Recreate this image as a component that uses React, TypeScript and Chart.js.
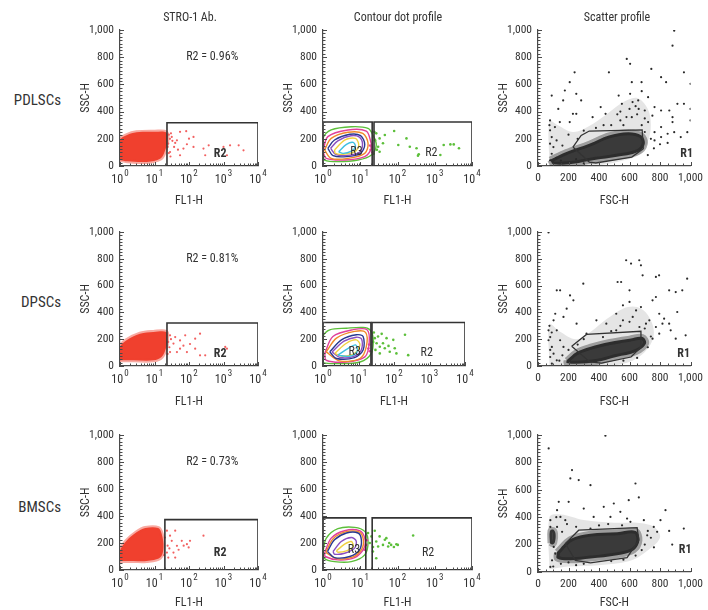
import { useEffect, useRef } from 'react';
import { Chart, registerables } from 'chart.js';

Chart.register(...registerables);

const FONT = '"Liberation Sans Narrow", "Roboto Condensed", "DejaVu Sans Condensed", Roboto, "Liberation Sans", sans-serif';
const INK = '#333333';
const AXIS = '#4a4a4a';

type Pt = [number, number];

// ---------- STRO-1 Ab. : FL1-H (log) vs SSC-H ----------
const pdlRedCloud: Pt[] = [[1, 45], [1, 190], [1.6, 228], [3, 248], [10, 252], [22, 246], [23.5, 180], [20, 110], [15, 55], [6, 30], [1.6, 35]];
const pdlRedDots: Pt[] = [
  [44.7, 189], [55, 251], [83, 256], [37, 140], [31.6, 214], [47.9, 120], [87, 160], [135, 214], [135, 140],
  [263, 128], [295, 79], [372, 152], [1000, 140], [1549, 152], [2754, 152], [3802, 115], [1259, 79], [25.1, 165],
  [39.8, 170], [69, 128], [28.2, 103], [100, 201], [55, 79], [26, 230], [28, 200], [30, 240], [33, 185], [24, 140],
  [26, 95], [29, 70],
];
const pdlR2Gate: number[] = [23, 10000, 318];

const dpRedCloud: Pt[] = [[1, 42], [1, 142], [1.55, 192], [3.8, 241], [9.3, 254], [22, 254], [23, 200], [22, 142], [16, 67], [9.3, 42], [2.5, 42]];
const dpRedDots: Pt[] = [
  [28.2, 229], [39.8, 216], [55, 191], [77.6, 229], [151, 204], [209, 241], [35.5, 167], [55, 129], [87, 104],
  [151, 129], [209, 80], [295, 80], [1122, 142], [1259, 129], [28.2, 104], [44.7, 104], [69, 152], [107, 164],
  [25, 180], [27, 140], [30, 200], [24, 90],
];
const dpR2Gate: number[] = [23, 10000, 321];

const bmRedCloud: Pt[] = [[1, 67], [1, 142], [1.55, 216], [3, 279], [5.4, 311], [12.9, 311], [16.2, 266], [18.2, 167], [14.5, 92], [5.9, 67], [2.45, 67]];
const bmRedDots: Pt[] = [
  [22.9, 291], [28.2, 254], [39.8, 291], [31.6, 216], [44.7, 179], [61.7, 216], [87, 191], [107, 216], [97.7, 167],
  [22.9, 129], [35.5, 129], [263, 254], [25.1, 92], [39.8, 92], [20, 240], [24, 180], [19, 110], [27, 160],
  [50, 150], [70, 180],
];
const bmR2Gate: number[] = [20, 10000, 373];

const stroPercent: string[] = ['R2 = 0.96%', 'R2 = 0.81%', 'R2 = 0.73%'];

// ---------- Contour dot profile : density contours ----------
const pdlContours: Pt[][] = [
  [[1, 81], [1, 203], [1.66, 265], [5.75, 289], [16.2, 277], [21.9, 228], [26.9, 154], [20, 81], [8.71, 44], [2.51, 32], [1.1, 44]],
  [[1, 105], [1.35, 216], [4.68, 265], [14.5, 257], [19.1, 179], [20, 130], [13.2, 69], [3.8, 44], [1.23, 56]],
  [[1.1, 118], [1.66, 203], [4.68, 248], [11.7, 240], [16.2, 167], [13.2, 93], [4.68, 56], [1.66, 56]],
  [[1.35, 130], [2.04, 191], [5.25, 233], [10.2, 223], [13.2, 159], [10.2, 93], [4.27, 69], [1.86, 76]],
  [[1.6, 130], [2.5, 185], [5.6, 222], [9.5, 212], [11.5, 160], [9.5, 100], [4.5, 78], [2.2, 85]],
  [[2.04, 118], [3.8, 191], [7.41, 203], [9.12, 154], [7.08, 105], [3.47, 86], [2.14, 93]],
  [[2.63, 105], [4.27, 159], [6.46, 174], [7.41, 142], [5.75, 110], [3.47, 93]],
];
const pdlGreenDots: Pt[] = [
  [26.9, 240], [33.1, 203], [30.2, 142], [45.7, 228], [81.3, 257], [105, 154], [174, 203], [214, 142], [324, 130],
  [372, 86], [355, 76], [1738, 154], [2630, 159], [3236, 159], [4467, 130], [1413, 81], [33.1, 105], [40.7, 167],
  [24, 250], [25, 190], [28, 120], [23, 90],
];
const pdlPinkDots: Pt[] = [[20, 140], [19, 120], [21, 100], [18.5, 150]];
const pdlR3Gate: number[] = [1, 20.9, 323];
const pdlR2cGate: number[] = [23.4, 10000, 323];

const dpContours: Pt[][] = [
  [[1, 43], [1, 220], [1.55, 270], [4.57, 282], [13.5, 288], [20.9, 270], [25.7, 210], [22.9, 94], [11, 30], [2.4, 18], [1, 25]],
  [[1.12, 94], [1.9, 220], [7.08, 271], [17.4, 271], [20, 170], [15.1, 68], [4.57, 30], [1.23, 43]],
  [[1.23, 106], [2.4, 208], [7.76, 258], [15.8, 251], [16.6, 144], [11, 56], [2.95, 38]],
  [[1.55, 106], [3.31, 195], [8.71, 233], [13.5, 220], [13.5, 119], [7.76, 63], [2.4, 56]],
  [[1.8, 104], [3.9, 185], [8.7, 215], [12.3, 200], [12, 120], [7.4, 72], [3, 64]],
  [[2.14, 94], [4.57, 170], [8.71, 195], [11, 157], [7.76, 94], [3.63, 73]],
  [[2.63, 81], [5.13, 132], [8.32, 157], [9.12, 106], [5.62, 73]],
];
const dpGreenDots: Pt[] = [
  [28.8, 208], [35.5, 220], [32.4, 170], [39.8, 144], [49, 170], [61.7, 208], [55, 132], [95.5, 195], [105, 132],
  [117, 94], [204, 233], [251, 81], [75.9, 106], [39.8, 94], [27, 250], [30, 120], [45, 240], [70, 150], [26, 180],
];
const dpPinkDots: Pt[] = [[20, 160], [19, 130], [21, 110]];
const dpR3Gate: number[] = [1, 22.4, 325];
const dpR2cGate: number[] = [24, 10000, 325];

const bmContours: Pt[][] = [
  [[1, 137], [1.23, 236], [2.51, 306], [7.08, 316], [13.2, 286], [16.2, 211], [13.2, 112], [5.75, 62], [2.04, 62], [1.07, 87]],
  [[1.1, 124], [1.66, 236], [3.8, 291], [9.55, 291], [13.2, 236], [12.6, 162], [7.08, 92], [2.51, 75], [1.15, 100]],
  [[1.2, 130], [1.85, 230], [4, 282], [9.2, 282], [12, 230], [11, 155], [6.2, 96], [2.3, 84]],
  [[1.32, 137], [2.04, 224], [4.27, 274], [8.71, 274], [10.7, 224], [9.55, 149], [5.25, 100], [2.04, 92]],
  [[1.86, 137], [3.09, 211], [5.75, 241], [7.76, 216], [7.08, 162], [3.8, 124], [2.04, 117]],
  [[2.29, 142], [3.8, 191], [5.75, 211], [6.46, 174], [4.27, 142], [2.51, 132]],
];
const bmGreenDots: Pt[] = [
  [16.2, 274], [20, 249], [24.5, 291], [26.9, 211], [33.1, 249], [30.2, 174], [40.7, 186], [50.1, 236], [56.2, 174],
  [67.6, 186], [93.3, 191], [102, 186], [21.9, 137], [26.9, 87], [263, 256], [45.7, 224], [18, 200], [22, 170],
  [60, 200], [80, 170],
];
const bmPinkDots: Pt[] = [[14.5, 186], [13, 150], [15, 220]];
const bmR3Gate: number[] = [1, 14.1, 386];
const bmR2cGate: number[] = [20.9, 10000, 386];

const contourColors: string[] = ['#5cbf3a', '#e0409a', '#f08a2a', '#283890', '#8a4fc0', '#f0d040', '#40c0e0'];

// ---------- Scatter profile : FSC-H vs SSC-H ----------
const pdlHalo: Pt[] = [[75, 0], [75, 330], [130, 300], [230, 250], [330, 290], [450, 380], [560, 470], [650, 500], [720, 420], [740, 300], [720, 180], [660, 80], [520, 30], [350, 0]];
const pdlCore: Pt[] = [[79, 46], [186, 103], [336, 164], [465, 225], [593, 249], [679, 225], [700, 164], [657, 103], [507, 66], [379, 46], [229, 17], [101, 12]];
const pdlEvents: Pt[] = [
  [90, 518], [240, 689], [208, 616], [176, 555], [165, 482], [251, 531], [283, 482], [411, 433], [465, 689], [529, 518],
  [582, 787], [604, 751], [615, 616], [679, 616], [743, 714], [807, 653], [840, 616], [882, 885], [893, 995], [957, 689],
  [914, 457], [957, 457], [882, 359], [882, 323], [1000, 604], [1000, 420], [1000, 335], [764, 433], [722, 506], [657, 482],
  [700, 408], [807, 408], [861, 408], [604, 531], [550, 457], [443, 384], [358, 359], [251, 384], [133, 420], [75, 300],
  [79, 335], [79, 262], [90, 213], [79, 164], [101, 139], [90, 90], [79, 42], [111, 286], [122, 188], [143, 323],
  [208, 323], [229, 384], [807, 286], [850, 237], [893, 249], [936, 213], [764, 188], [722, 323], [615, 359], [540, 335],
  [764, 249], [807, 213], [979, 249], [480, 300], [520, 380], [600, 420], [650, 380], [560, 300], [700, 350], [750, 370],
  [640, 440], [580, 360], [680, 300], [430, 300], [380, 280], [300, 260], [260, 200], [200, 230], [160, 150], [120, 60],
  [150, 40], [250, 50], [300, 20], [700, 250], [740, 200], [760, 130], [720, 80], [800, 160], [850, 170], [680, 550],
  [620, 470], [660, 420], [540, 400],
];
const pdlR1Gate: Pt[] = [[229, 139], [283, 225], [336, 257], [683, 266], [690, 127], [615, 66], [379, 22], [336, 29]];

const dpHalo: Pt[] = [[75, 0], [75, 310], [140, 260], [250, 200], [350, 260], [450, 350], [560, 430], [650, 440], [720, 380], [760, 250], [720, 130], [620, 40], [450, 0]];
const dpCore: Pt[] = [[188, 42], [253, 104], [340, 142], [470, 179], [600, 204], [686, 216], [708, 167], [643, 104], [513, 67], [383, 30], [253, 17], [188, 22]];
const dpEvents: Pt[] = [
  [69, 997], [123, 565], [145, 565], [210, 527], [232, 490], [297, 614], [188, 428], [167, 366], [253, 316], [318, 241],
  [383, 341], [448, 316], [513, 390], [522, 627], [545, 627], [578, 789], [600, 565], [610, 764], [664, 789], [675, 751],
  [686, 677], [773, 665], [794, 677], [751, 490], [773, 515], [860, 565], [903, 552], [913, 403], [946, 565], [978, 652],
  [968, 229], [903, 204], [870, 266], [827, 353], [795, 390], [730, 341], [675, 440], [600, 478], [557, 453], [621, 366],
  [708, 316], [773, 291], [795, 241], [751, 204], [665, 291], [816, 316], [860, 316], [643, 415], [513, 266], [557, 341],
  [426, 216], [69, 266], [80, 216], [91, 142], [80, 67], [91, 17], [69, 192], [102, 341], [113, 390], [123, 266],
  [145, 192], [167, 142], [102, 92], [123, 42], [80, 120], [90, 250], [75, 300], [480, 260], [540, 300], [600, 330],
  [700, 280], [740, 220], [720, 140], [650, 60], [560, 40], [300, 200], [260, 160], [200, 120], [160, 80], [140, 40],
];
const dpR1Gate: Pt[] = [[221, 147], [318, 236], [675, 259], [675, 142], [610, 67], [416, 22], [340, 30]];

const bmHalo: Pt[] = [[75, 20], [75, 400], [150, 420], [300, 380], [500, 360], [650, 360], [760, 330], [800, 250], [700, 140], [600, 80], [400, 50], [200, 40]];
const bmCore: Pt[] = [[125, 146], [212, 240], [344, 280], [519, 290], [640, 300], [665, 232], [628, 159], [519, 122], [344, 98], [212, 85], [125, 98]];
const bmLeftCluster: Pt[] = [[78, 210], [78, 300], [100, 310], [115, 280], [110, 215], [95, 200]];
const bmEvents: Pt[] = [
  [70, 902], [442, 995], [223, 744], [212, 683], [267, 671], [344, 634], [639, 646], [661, 544], [595, 524], [836, 451],
  [956, 317], [803, 378], [759, 329], [716, 268], [781, 293], [136, 512], [201, 512], [300, 463], [365, 402], [431, 476],
  [475, 402], [497, 500], [540, 439], [584, 390], [125, 451], [147, 402], [179, 378], [81, 37], [92, 85], [114, 134],
  [103, 183], [81, 329], [125, 329], [158, 293], [81, 378], [694, 378], [606, 366], [551, 341], [344, 317], [700, 200],
  [740, 250], [720, 300], [680, 160], [640, 120], [560, 90], [480, 80], [300, 60], [250, 50], [200, 70], [150, 60],
  [100, 40], [460, 350], [400, 340], [250, 330], [190, 350], [120, 400], [860, 300], [880, 200], [760, 180],
];
const bmR1Gate: Pt[] = [[179, 207], [267, 305], [650, 324], [661, 232], [584, 105], [344, 66], [245, 85]];

const rowNames: string[] = ['PDLSCs', 'DPSCs', 'BMSCs'];
const columnTitles: string[] = ['STRO-1 Ab.', 'Contour dot profile', 'Scatter profile'];

// ---------- layout ----------
const COLS = [
  { left: 64, right: 276, plotLeft: 120, plotRight: 258, yTitleX: 86 },
  { left: 276, right: 490, plotLeft: 323, plotRight: 472, yTitleX: 289 },
  { left: 490, right: 708, plotLeft: 538, plotRight: 693, yTitleX: 504 },
];
const ROWS = [
  { top: 0, bottom: 212, plotTop: 30, plotBottom: 166, xTitleY: 201, label: 100 },
  { top: 212, bottom: 412, plotTop: 232, plotBottom: 366, xTitleY: 402, label: 302 },
  { top: 412, bottom: 610, plotTop: 435, plotBottom: 570, xTitleY: 603, label: 507 },
];
const TITLE_SIZE = 12;
const TICK_SIZE = 11.5;

interface Layer { pts: Pt[]; mode: 'area' | 'line' | 'dots'; color: string; edge?: string; edgeWidth?: number; width?: number; radius?: number; tension?: number; }
interface Note { at: Pt; text: string; size: number; weight?: string; align?: CanvasTextAlign; }
interface Panel { row: number; col: number; log: boolean; xTitle: string; layers: Layer[]; notes: Note[]; plotRight?: number; plotTop?: number; plotBottom?: number; }

const box = (g: number[]): Pt[] => [[g[0], 0], [g[0], g[2]], [g[1], g[2]], [g[1], 0]];
const gateLayer = (pts: Pt[], width = 1.6): Layer => ({ pts, mode: 'line', color: '#333333', width, tension: 0 });

function stroPanel(row: number, cloud: Pt[], dots: Pt[], gate: number[], r2Y: number): Panel {
  return {
    row, col: 0, log: true, xTitle: 'FL1-H',
    layers: [
      { pts: cloud, mode: 'area', color: '#f0402e', edge: 'rgba(240,64,46,0.45)', edgeWidth: 4, tension: 0.35 },
      { pts: dots, mode: 'dots', color: '#f26060', radius: 1.1 },
      gateLayer(box(gate)),
    ],
    notes: [
      { at: [470, 800], text: stroPercent[row], size: 12 },
      { at: [800, r2Y], text: 'R2', size: 12, weight: 'bold' },
    ],
  };
}

function contourPanel(row: number, rings: Pt[][], green: Pt[], pink: Pt[], r3: number[], r2: number[], r3At: Pt, r2At: Pt, plotRight?: number): Panel {
  const layers: Layer[] = [{ pts: green, mode: 'dots', color: '#5cbf3a', radius: 1.3 }];
  rings.forEach((ring, i) => layers.push({ pts: ring, mode: 'line', color: contourColors[i % contourColors.length], width: 1.4, tension: 0.32 }));
  layers.push({ pts: pink, mode: 'dots', color: '#e0409a', radius: 1.3 });
  layers.push(gateLayer(box(r3)));
  layers.push(gateLayer(box(r2)));
  return {
    row, col: 1, log: true, xTitle: 'FL1-H', layers, plotRight,
    notes: [
      { at: r3At, text: 'R3', size: 12 },
      { at: r2At, text: 'R2', size: 12 },
    ],
  };
}

function scatterPanel(row: number, halo: Pt[], core: Pt[], events: Pt[], gate: Pt[], r1At: Pt, extra: Pt[] | null): Panel {
  const layers: Layer[] = [
    { pts: halo, mode: 'area', color: 'rgba(0,0,0,0.10)', edge: 'rgba(0,0,0,0)', edgeWidth: 0, tension: 0.35 },
    { pts: core, mode: 'area', color: 'rgba(20,20,20,0.82)', edge: 'rgba(20,20,20,0.35)', edgeWidth: 6, tension: 0.35 },
  ];
  if (extra) layers.push({ pts: extra, mode: 'area', color: 'rgba(20,20,20,0.78)', edge: 'rgba(20,20,20,0.3)', edgeWidth: 5, tension: 0.35 });
  layers.push({ pts: events, mode: 'dots', color: '#2a2a2a', radius: 1.1 });
  layers.push(gateLayer([...gate], 1.3));
  return {
    row, col: 2, log: false, xTitle: 'FSC-H', layers,
    notes: [{ at: r1At, text: 'R1', size: 12, weight: 'bold' }],
  };
}

const PANELS: Panel[] = [
  stroPanel(0, pdlRedCloud, pdlRedDots, pdlR2Gate, 88),
  contourPanel(0, pdlContours, pdlGreenDots, pdlPinkDots, pdlR3Gate, pdlR2cGate, [7.9, 105], [813, 93]),
  scatterPanel(0, pdlHalo, pdlCore, pdlEvents, pdlR1Gate, [975, 90], null),
  stroPanel(1, dpRedCloud, dpRedDots, dpR2Gate, 92),
  contourPanel(1, dpContours, dpGreenDots, dpPinkDots, dpR3Gate, dpR2cGate, [7.8, 106], [832, 94], 465),
  scatterPanel(1, dpHalo, dpCore, dpEvents, dpR1Gate, [955, 92], null),
  stroPanel(2, bmRedCloud, bmRedDots, bmR2Gate, 124),
  contourPanel(2, bmContours, bmGreenDots, bmPinkDots, bmR3Gate, bmR2cGate, [6.8, 149], [661, 124]),
  { ...scatterPanel(2, bmHalo, bmCore, bmEvents, bmR1Gate, [965, 158], bmLeftCluster), plotBottom: 572 },
];

function fmt(v: number): string {
  return Number(v).toLocaleString('en-US');
}

function buildChart(canvas: HTMLCanvasElement, p: Panel): Chart {
  const c = COLS[p.col];
  const r = ROWS[p.row];
  const plotRight = p.plotRight ?? c.plotRight;
  const plotTop = p.plotTop ?? r.plotTop;
  const plotBottom = p.plotBottom ?? r.plotBottom;
  const lh = TITLE_SIZE * 1.2;
  const padLeft = c.yTitleX - c.left - lh / 2;
  const yW = c.plotLeft - c.left - padLeft;
  const padTop = plotTop - r.top;
  const padRight = c.right - plotRight;
  const padBottom = Math.max(0, r.bottom - r.xTitleY - lh / 2);
  const xH = r.bottom - padBottom - plotBottom;

  const datasets = p.layers.map((layer, i) => {
    const order = p.layers.length - i;
    const pts = layer.mode === 'dots' ? layer.pts : [...layer.pts, layer.pts[0]];
    const data = pts.map(([x, y]) => ({ x, y }));
    if (layer.mode === 'dots') {
      return { data, showLine: false, pointRadius: layer.radius ?? 1.1, pointBackgroundColor: layer.color, pointBorderWidth: 0, pointHoverRadius: 0, order };
    }
    if (layer.mode === 'area') {
      return {
        data, showLine: true, fill: 'shape', backgroundColor: layer.color,
        borderColor: layer.edge ?? layer.color, borderWidth: layer.edgeWidth ?? 1, borderJoinStyle: 'round',
        pointRadius: 0, pointHoverRadius: 0, tension: layer.tension ?? 0.3, order,
      };
    }
    return { data, showLine: true, fill: false, borderColor: layer.color, borderWidth: layer.width ?? 1.3, pointRadius: 0, pointHoverRadius: 0, tension: layer.tension ?? 0, order };
  });

  const titleFont = { family: FONT, size: TITLE_SIZE };
  const tickFont = { family: FONT, size: TICK_SIZE };

  const xScale: any = p.log
    ? { type: 'logarithmic', min: 1, max: 10000, ticks: { display: false } }
    : { type: 'linear', min: 0, max: 1000, ticks: { stepSize: 200, autoSkip: false, maxRotation: 0, padding: 5, color: INK, font: tickFont, callback: (v: any) => fmt(v) } };
  Object.assign(xScale, {
    position: 'bottom',
    grid: { display: false, drawTicks: false },
    border: { display: true, color: AXIS, width: 1.2 },
    title: { display: true, text: p.xTitle, color: INK, font: titleFont, padding: { top: 0, bottom: 0 } },
    afterFit: (s: any) => { s.height = xH; },
  });

  const frame = {
    id: 'frame',
    afterDraw(chart: any) {
      const { ctx, chartArea: a, scales } = chart;
      const xs = scales.x;
      const ys = scales.y;
      ctx.save();
      ctx.strokeStyle = AXIS;
      ctx.lineWidth = 1;
      // inner tick marks on the vertical axis
      for (let v = 0; v <= 1000; v += 25) {
        const py = Math.round(ys.getPixelForValue(v)) + 0.5;
        const len = v % 200 === 0 ? 4 : 2.5;
        ctx.beginPath(); ctx.moveTo(a.left, py); ctx.lineTo(a.left + len, py); ctx.stroke();
      }
      // inner tick marks on the horizontal axis
      const xv: { v: number; major: boolean }[] = [];
      if (p.log) {
        for (let k = 0; k < 4; k++) for (let m = 1; m <= 9; m++) xv.push({ v: m * Math.pow(10, k), major: m === 1 });
        xv.push({ v: 10000, major: true });
      } else {
        for (let v = 0; v <= 1000; v += 50) xv.push({ v, major: v % 200 === 0 });
      }
      xv.forEach(({ v, major }) => {
        const px = Math.round(xs.getPixelForValue(v)) + 0.5;
        const len = major ? 4 : 2.5;
        ctx.beginPath(); ctx.moveTo(px, a.bottom); ctx.lineTo(px, a.bottom - len); ctx.stroke();
      });
      // decade labels 10^k on the log axis
      if (p.log) {
        ctx.fillStyle = INK;
        ctx.textBaseline = 'middle';
        ctx.textAlign = 'left';
        for (let k = 0; k <= 4; k++) {
          const px = xs.getPixelForValue(Math.pow(10, k));
          ctx.font = `12px ${FONT}`;
          const wb = ctx.measureText('10').width;
          ctx.font = `9px ${FONT}`;
          const we = ctx.measureText(String(k)).width;
          const x0 = px - (wb + we + 1) / 2;
          ctx.font = `12px ${FONT}`;
          ctx.fillText('10', x0, a.bottom + 14);
          ctx.font = `9px ${FONT}`;
          ctx.fillText(String(k), x0 + wb + 1, a.bottom + 8);
        }
      }
      // gate and percentage labels
      p.notes.forEach((n) => {
        ctx.font = `${n.weight ?? 'normal'} ${n.size}px ${FONT}`;
        ctx.fillStyle = INK;
        ctx.textAlign = n.align ?? 'center';
        ctx.textBaseline = 'middle';
        ctx.fillText(n.text, xs.getPixelForValue(n.at[0]), ys.getPixelForValue(n.at[1]));
      });
      ctx.restore();
    },
  };

  return new Chart(canvas, {
    type: 'scatter',
    data: { datasets } as any,
    options: {
      responsive: false,
      animation: false,
      events: [],
      layout: { padding: { left: padLeft, top: padTop, right: padRight, bottom: padBottom } },
      plugins: { legend: { display: false }, tooltip: { enabled: false } },
      scales: {
        x: xScale,
        y: {
          type: 'linear', min: 0, max: 1000, position: 'left',
          ticks: { stepSize: 200, autoSkip: false, padding: 6, color: INK, font: tickFont, callback: (v: any) => fmt(v) },
          grid: { display: false, drawTicks: false },
          border: { display: true, color: AXIS, width: 1.2 },
          title: { display: true, text: 'SSC-H', color: INK, font: titleFont, padding: { top: 0, bottom: 0 } },
          afterFit: (s: any) => { s.width = yW; },
        },
      },
    } as any,
    plugins: [frame],
  });
}

function PanelCanvas({ panel }: { panel: Panel }) {
  const ref = useRef<HTMLCanvasElement | null>(null);
  const c = COLS[panel.col];
  const r = ROWS[panel.row];
  useEffect(() => {
    if (!ref.current) return;
    const chart = buildChart(ref.current, panel);
    return () => chart.destroy();
  }, [panel]);
  return (
    <canvas
      ref={ref}
      width={c.right - c.left}
      height={r.bottom - r.top}
      style={{ position: 'absolute', left: c.left, top: r.top, width: c.right - c.left, height: r.bottom - r.top }}
    />
  );
}

const titleCenters = [190, 398, 617];

export default function App() {
  return (
    <div style={{ position: 'absolute', left: 0, top: 0, width: 708, height: 610, background: '#ffffff', overflow: 'hidden', fontFamily: FONT, color: INK }}>
      {PANELS.map((p, i) => <PanelCanvas key={i} panel={p} />)}
      {columnTitles.map((t, i) => (
        <div key={t} style={{ position: 'absolute', left: titleCenters[i], top: 17, transform: 'translate(-50%, -50%)', fontSize: 12, whiteSpace: 'nowrap' }}>{t}</div>
      ))}
      {rowNames.map((t, i) => (
        <div key={t} style={{ position: 'absolute', right: 708 - 61, top: ROWS[i].label, transform: 'translateY(-50%)', fontSize: 15, whiteSpace: 'nowrap' }}>{t}</div>
      ))}
    </div>
  );
}
